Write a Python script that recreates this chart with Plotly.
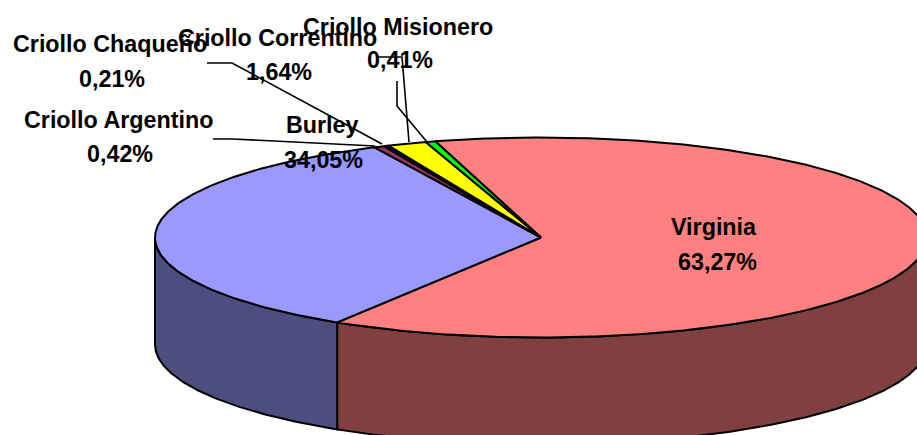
import numpy as np
import plotly.graph_objects as go

# Data (clockwise order)
categories = ["Virginia", "Burley", "Criollo Argentino", "Criollo Chaqueño", "Criollo Correntino", "Criollo Misionero"]
shares = [63.27, 34.05, 0.42, 0.21, 1.64, 0.41]
share_labels = ["63,27%", "34,05%", "0,42%", "0,21%", "1,64%", "0,41%"]

# Styles
top_colors = ["#FF8080", "#9999FF", "#993366", "#000080", "#FFFF00", "#00FF00"]
wall_colors = ["#804040", "#4D4D80", "#4D1A33", "#000040", "#808000", "#008000"]

# Pie projection (plot axes are set to the page's pixel grid)
CX, CY, RX, RY, DEPTH = 541, 237.5, 386, 100, 107
START_DEG = -15.9


def rim(t_deg, dy=0.0):
    t = np.radians(t_deg)
    return CX + RX * np.sin(t), CY - RY * np.cos(t) + dy


def arc(a, b):
    n = max(2, int(abs(b - a) * 2) + 1)
    return np.linspace(a, b, n)


fig = go.Figure()
edges = START_DEG + np.cumsum([0] + shares) * 360 / sum(shares)
LINE = dict(color="black", width=2)

# Side walls: only the front half of the rim (90..270 degrees) is visible
for i in range(len(categories)):
    a, b = max(edges[i], 90), min(edges[i + 1], 270)
    if b <= a:
        continue
    ts = arc(a, b)
    x1, y1 = rim(ts)
    x2, y2 = rim(ts[::-1], DEPTH)
    fig.add_trace(go.Scatter(x=np.r_[x1, x2, x1[0]], y=np.r_[y1, y2, y1[0]], mode="lines",
                             fill="toself", fillcolor=wall_colors[i], line=LINE,
                             hoverinfo="skip", showlegend=False))

# Top wedges
for i in range(len(categories)):
    ts = arc(edges[i], edges[i + 1])
    x, y = rim(ts)
    fig.add_trace(go.Scatter(x=np.r_[CX, x, CX], y=np.r_[CY, y, CY], mode="lines",
                             fill="toself", fillcolor=top_colors[i], line=LINE,
                             name=categories[i], hoverinfo="skip", showlegend=False))

# Leader lines
leaders = [
    ([213, 233, 375], [139, 139, 146]),
    ([207, 232, 382], [63, 63, 144]),
    ([377, 402, 409], [57, 57, 142]),
    ([397, 397, 427], [81, 106, 142]),
]
for lx, ly in leaders:
    fig.add_trace(go.Scatter(x=lx, y=ly, mode="lines", line=dict(color="black", width=1.6),
                             hoverinfo="skip", showlegend=False))

# Data labels: centres of the name and the value lines
label_pos = [
    (714, 227, 717, 262),
    (322, 125, 323, 160),
    (118, 120, 120, 154),
    (109.5, 44, 112, 79),
    (277, 38, 279, 72),
    (398, 27, 400, 60),
]
FONT = dict(family="Liberation Sans, Arial, sans-serif", size=23.3, color="black", weight="bold")
for name, val, (nx, ny, vx, vy) in zip(categories, share_labels, label_pos):
    fig.add_annotation(x=nx, y=ny, text=f"<b>{name}</b>", showarrow=False, font=FONT, xref="x", yref="y")
    fig.add_annotation(x=vx, y=vy, text=f"<b>{val}</b>", showarrow=False, font=FONT, xref="x", yref="y")

fig.update_layout(
    width=917, height=435, margin=dict(l=0, r=0, t=0, b=0),
    paper_bgcolor="white", plot_bgcolor="white", showlegend=False,
    xaxis=dict(range=[0, 917], visible=False, fixedrange=True),
    yaxis=dict(range=[435, 0], visible=False, fixedrange=True),
)
fig.write_html("out.html", config={"displayModeBar": False},
               post_script="document.body.style.margin='0';document.body.style.overflow='hidden';")
